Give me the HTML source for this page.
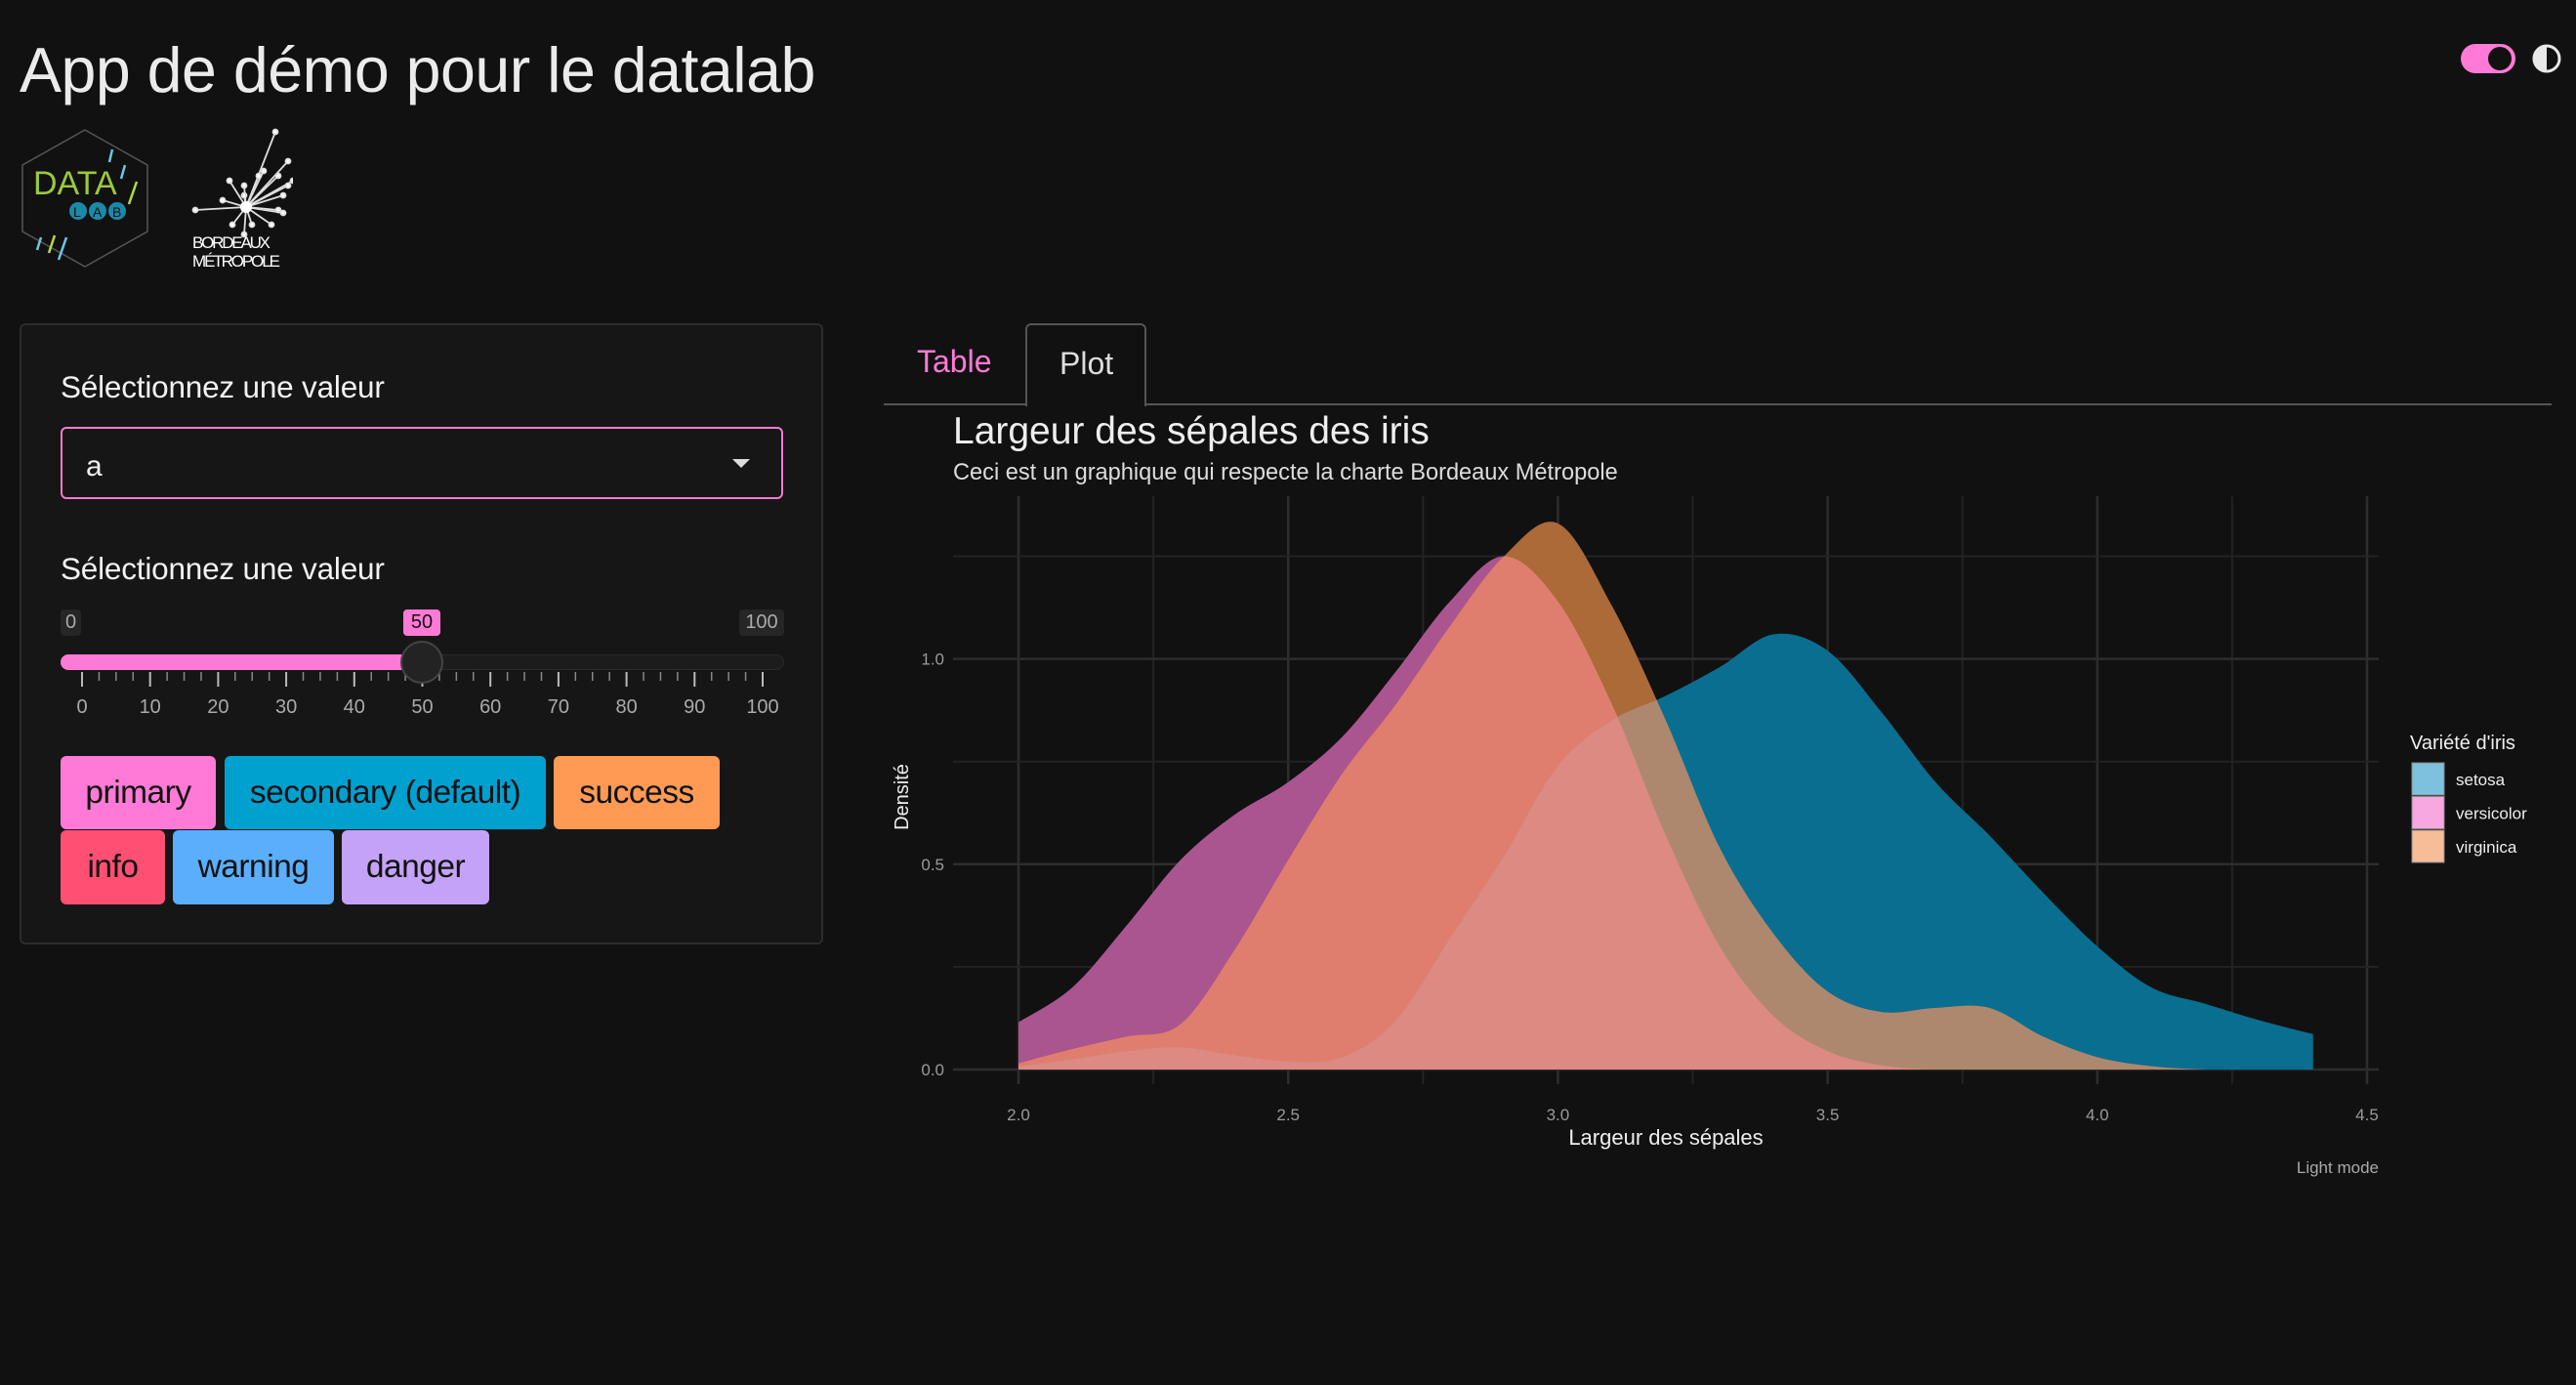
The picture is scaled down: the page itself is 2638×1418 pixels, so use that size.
<!DOCTYPE html>
<html><head><meta charset="utf-8">
<style>
*{margin:0;padding:0;box-sizing:border-box}
body{width:2638px;height:1418px;background:#111111;overflow:hidden;position:relative;font-family:"Liberation Sans",sans-serif;color:#ececec}
.abs{position:absolute}
.btn{position:absolute;border-radius:6px;color:#111;font-size:33.5px;display:flex;align-items:center;justify-content:center;letter-spacing:-0.5px}
.lbl{position:absolute;left:62px;font-size:31.5px;color:#f2f2f2;letter-spacing:-0.2px}
.vbox{position:absolute;top:624px;height:27px;border-radius:4px;font-size:20px;display:flex;align-items:center;justify-content:center}
</style></head>
<body>
<div class="abs" style="left:20px;top:35px;font-size:64.5px;color:#ebebeb;letter-spacing:-0.5px;white-space:nowrap">App de démo pour le datalab</div>

<svg class="abs" style="left:20px;top:131px" width="135" height="145" viewBox="0 0 135 145">
 <polygon points="67,2 131,38 131,106 67,142 3,106 3,38" fill="#111" stroke="#555" stroke-width="1.5"/>
 <g stroke-width="2.5"><line x1="95" y1="22" x2="92" y2="35" stroke="#6ec6e0"/><line x1="108" y1="38" x2="104" y2="52" stroke="#6ec6e0"/><line x1="120" y1="55" x2="112" y2="78" stroke="#b8d84a"/><line x1="30" y1="128" x2="36" y2="110" stroke="#b8d84a"/><line x1="40" y1="135" x2="48" y2="112" stroke="#6ec6e0"/><line x1="18" y1="125" x2="22" y2="112" stroke="#6ec6e0"/></g>
 <text x="14" y="68" font-size="34" fill="#9cc83c" font-family="Liberation Sans">DATA</text>
 <circle cx="60" cy="85" r="9" fill="#1b8aa8"/><circle cx="80" cy="85" r="9" fill="#1b8aa8"/><circle cx="100" cy="85" r="9" fill="#1b8aa8"/>
 <text x="55" y="91" font-size="14" fill="#111" font-family="Liberation Sans">L</text><text x="75" y="91" font-size="14" fill="#111" font-family="Liberation Sans">A</text><text x="95" y="91" font-size="14" fill="#111" font-family="Liberation Sans">B</text>
</svg>

<svg class="abs" style="left:190px;top:130px" width="110" height="150" viewBox="0 0 110 150">
 <g stroke="#ddd" stroke-width="1.8" fill="#fff" id="burst"></g>
 <text x="7" y="124" font-size="17" fill="#fff" font-family="Liberation Sans" textLength="80">BORDEAUX</text>
 <text x="7" y="143" font-size="17" fill="#fff" font-family="Liberation Sans" textLength="90">MÉTROPOLE</text>
</svg>

<div class="abs" style="left:2520px;top:45px;width:56px;height:30px;border-radius:15px;background:#ff7ad6"><div style="position:absolute;right:4px;top:3px;width:24px;height:24px;border-radius:50%;background:#111"></div></div>
<svg class="abs" style="left:2592px;top:44px" width="32" height="32"><circle cx="16" cy="16" r="13" fill="#111" stroke="#e8e8e8" stroke-width="3"/><path d="M16 3 A13 13 0 0 0 16 29 Z" fill="#e8e8e8"/></svg>

<div class="abs" style="left:20px;top:331px;width:823px;height:636px;background:#161616;border:2px solid #2c2c2c;border-radius:6px"></div>
<div class="lbl" style="top:378px">Sélectionnez une valeur</div>
<div class="abs" style="left:62px;top:437px;width:740px;height:74px;border:2px solid #f57bd2;border-radius:6px;font-size:30px;padding:22px 0 0 24px;color:#eee">a<div style="position:absolute;right:32px;top:31px;width:0;height:0;border-left:9px solid transparent;border-right:9px solid transparent;border-top:9px solid #ddd"></div></div>
<div class="lbl" style="top:564px">Sélectionnez une valeur</div>
<div class="vbox" style="left:62px;width:21px;background:#262626;color:#aaa">0</div>
<div class="vbox" style="left:413px;width:38px;background:#ff7ad6;color:#111">50</div>
<div class="vbox" style="left:757px;width:46px;background:#262626;color:#aaa">100</div>
<div class="abs" style="left:62px;top:670px;width:741px;height:16px;border-radius:8px;background:#1c1c1c;border:1px solid #2a2a2a"></div>
<div class="abs" style="left:62px;top:670px;width:372px;height:16px;border-radius:8px;background:#ff7ad6"></div>
<svg class="abs" style="left:60px;top:684px" width="760" height="60" id="sticks"></svg>
<div class="abs" style="left:410px;top:656px;width:44px;height:44px;border-radius:50%;background:#232323;border:2px solid #444"></div>

<div class="btn" style="left:62px;top:774px;width:159px;height:75px;background:#ff7ad6">primary</div>
<div class="btn" style="left:230px;top:774px;width:329px;height:75px;background:#00a0cf">secondary (default)</div>
<div class="btn" style="left:567px;top:774px;width:170px;height:75px;background:#ff9a55">success</div>
<div class="btn" style="left:62px;top:850px;width:107px;height:76px;background:#ff4f72">info</div>
<div class="btn" style="left:177px;top:850px;width:165px;height:76px;background:#5aaefb">warning</div>
<div class="btn" style="left:350px;top:850px;width:151px;height:76px;background:#c4a2f7">danger</div>

<div class="abs" style="left:939px;top:352px;font-size:32px;color:#ff7ad6">Table</div>
<div class="abs" style="left:1050px;top:331px;width:124px;height:85px;border:2px solid #555;border-bottom:none;border-radius:6px 6px 0 0;background:#111;font-size:32px;color:#ddd;padding:21px 0 0 33px">Plot</div>
<div class="abs" style="left:905px;top:413px;width:145px;height:2px;background:#555"></div>
<div class="abs" style="left:1174px;top:413px;width:1439px;height:2px;background:#555"></div>

<svg class="abs" id="chart" style="left:0;top:0" width="2638" height="1418"></svg>

<script>
const xs=[2.0,2.1,2.2,2.3,2.4,2.5,2.6,2.7,2.8,2.9,3.0,3.1,3.2,3.3,3.4,3.5,3.6,3.7,3.8,3.9,4.0,4.1,4.2,4.3,4.4];
const setosa=[0.007,0.025,0.045,0.054,0.035,0.02,0.03,0.12,0.32,0.52,0.74,0.85,0.91,0.98,1.06,1.02,0.87,0.70,0.57,0.43,0.30,0.20,0.16,0.12,0.086];
const versicolor=[0.115,0.20,0.35,0.51,0.62,0.70,0.81,0.97,1.14,1.25,1.14,0.89,0.57,0.30,0.13,0.045,0.01,0,0,0,0,0,0,0,0];
const virginica=[0.015,0.05,0.08,0.11,0.29,0.51,0.72,0.89,1.08,1.25,1.33,1.13,0.85,0.54,0.33,0.19,0.14,0.15,0.15,0.08,0.03,0.008,0,0,0];
const xTicks=[2.0,2.5,3.0,3.5,4.0,4.5];
const xTickLabels=["2.0","2.5","3.0","3.5","4.0","4.5"];
const yTicks=[0,0.5,1.0];
const yTickLabels=["0.0","0.5","1.0"];
const legendLabels=["setosa","versicolor","virginica"];
const legendColors=["#7ec1de","#f8a8e0","#f6bd99"];
const sliderTicks=[0,10,20,30,40,50,60,70,80,90,100];

const NS="http://www.w3.org/2000/svg";
const X=v=>1043+(v-2)*552.4;
const Y=v=>1095-v*420.4;
const svg=document.getElementById('chart');
function mk(tag,attrs,parent){const e=document.createElementNS(NS,tag);for(const k in attrs)e.setAttribute(k,attrs[k]);(parent||svg).appendChild(e);return e;}

const PL=976,PR=2436,PT=508,PB=1110;
for(let v=2.0;v<=4.51;v+=0.25){const major=Math.abs(v*2-Math.round(v*2))<1e-6;
 const l=mk('line',{x1:X(v),x2:X(v),y1:PT,y2:PB,stroke:major?'#2d2d2d':'#232323','stroke-width':major?2.5:2});
 
 }
for(let v=0;v<=1.26;v+=0.25){const major=Math.abs(v*2-Math.round(v*2))<1e-6;
 const l=mk('line',{x1:PL,x2:PR,y1:Y(v),y2:Y(v),stroke:major?'#2d2d2d':'#232323','stroke-width':major?2.5:2});
 
 }

function pathD(vals){
 const p=xs.map((x,i)=>[X(x),Y(vals[i])]);
 let d=`M${X(xs[0])},${Y(0)} L${p[0][0]},${p[0][1]}`;
 for(let i=0;i<p.length-1;i++){const p0=p[Math.max(i-1,0)],p1=p[i],p2=p[i+1],p3=p[Math.min(i+2,p.length-1)];
  const c1=[p1[0]+(p2[0]-p0[0])/6,p1[1]+(p2[1]-p0[1])/6],c2=[p2[0]-(p3[0]-p1[0])/6,p2[1]-(p3[1]-p1[1])/6];
  d+=` C${c1[0]},${Math.min(c1[1],Y(0))} ${c2[0]},${Math.min(c2[1],Y(0))} ${p2[0]},${p2[1]}`;}
 d+=` L${X(xs[xs.length-1])},${Y(0)} Z`;return d;}
const dS=pathD(setosa),dVe=pathD(versicolor),dVi=pathD(virginica);
const defs=mk('defs',{});
const cS=mk('clipPath',{id:'cS'},defs);mk('path',{d:dS},cS);
const cVe=mk('clipPath',{id:'cVe'},defs);mk('path',{d:dVe},cVe);
const a1=mk('path',{d:dS,fill:'#0a6e90'});


const a2=mk('path',{d:dVe,fill:'#aa5590'});


const a3=mk('path',{d:dVi,fill:'#ab6a38'});


const g1=mk('g',{'clip-path':'url(#cVe)'});mk('path',{d:dVi,fill:'#df7e6e'},g1);


const g2=mk('g',{'clip-path':'url(#cS)'});mk('path',{d:dVi,fill:'#ae886e'},g2);


const g3=mk('g',{'clip-path':'url(#cS)'});mk('path',{d:dVe,fill:'#dc8a82'},g3);



const F='Liberation Sans, sans-serif';
xTicks.forEach((v,i)=>{const t=mk('text',{x:X(v),y:1147,'text-anchor':'middle','font-size':17,fill:'#9a9a9a','font-family':F});t.textContent=xTickLabels[i];
 
 });
yTicks.forEach((v,i)=>{const t=mk('text',{x:967,y:Y(v)+6,'text-anchor':'end','font-size':17,fill:'#9a9a9a','font-family':F});t.textContent=yTickLabels[i];
 
 });
function txt(s,attrs,name){const t=mk('text',Object.assign({'font-family':F},attrs));t.textContent=s;
 
 return t;}
txt('Largeur des sépales des iris',{x:976,y:454,'font-size':39,fill:'#eeeeee'},'chart-title');
txt('Ceci est un graphique qui respecte la charte Bordeaux Métropole',{x:976,y:491,'font-size':23.6,fill:'#dddddd'},'chart-subtitle');
txt('Largeur des sépales',{x:1706,y:1172,'font-size':22,fill:'#eeeeee','text-anchor':'middle'},'x-axis-title');
txt('Densité',{x:0,y:0,'font-size':20,fill:'#eeeeee','text-anchor':'middle',transform:'translate(930,816) rotate(-90)'},'y-axis-title');
txt("Variété d'iris",{x:2468,y:767,'font-size':20,fill:'#eeeeee'},'legend-title');
legendLabels.forEach((s,i)=>{const r=mk('rect',{x:2470,y:781+i*34.5,width:33,height:33,fill:legendColors[i],stroke:'#888','stroke-width':1});
 
 
 txt(s,{x:2515,y:804+i*34.5,'font-size':17,fill:'#eeeeee'},'legend-label');});
txt('Light mode',{x:2436,y:1201,'font-size':17,fill:'#aaaaaa','text-anchor':'end'},'caption');

const st=document.getElementById('sticks');
sliderTicks.forEach((v,i)=>{const x=24+v*6.97;
 const l=mk('line',{x1:x,x2:x,y1:4,y2:19,stroke:'#bbb','stroke-width':2},st);
 
 
 const t=mk('text',{x:x,y:46,'text-anchor':'middle','font-size':20,fill:'#aaa','font-family':F},st);t.textContent=v;
 
 
 if(i<sliderTicks.length-1){for(let k=1;k<4;k++){const xm=x+k*6.97*2.5;mk('line',{x1:xm,x2:xm,y1:4,y2:13,stroke:'#888','stroke-width':1.5},st);}}});

const b=document.getElementById('burst');
const rays=[[92,5],[105,35],[110,55],[75,50],[60,60],[45,55],[38,75],[10,85],[48,100],[60,110],[68,100],[100,70],[105,60],[88,100],[95,85],[60,70],[100,88],[80,45],[95,50]];
rays.forEach(r=>{mk('line',{x1:62,x2:r[0],y1:82,y2:r[1]},b);mk('circle',{cx:r[0],cy:r[1],r:2.5},b);});
mk('circle',{cx:62,cy:82,r:6,fill:'#fff',stroke:'none'},b);
</script>
</body></html>
